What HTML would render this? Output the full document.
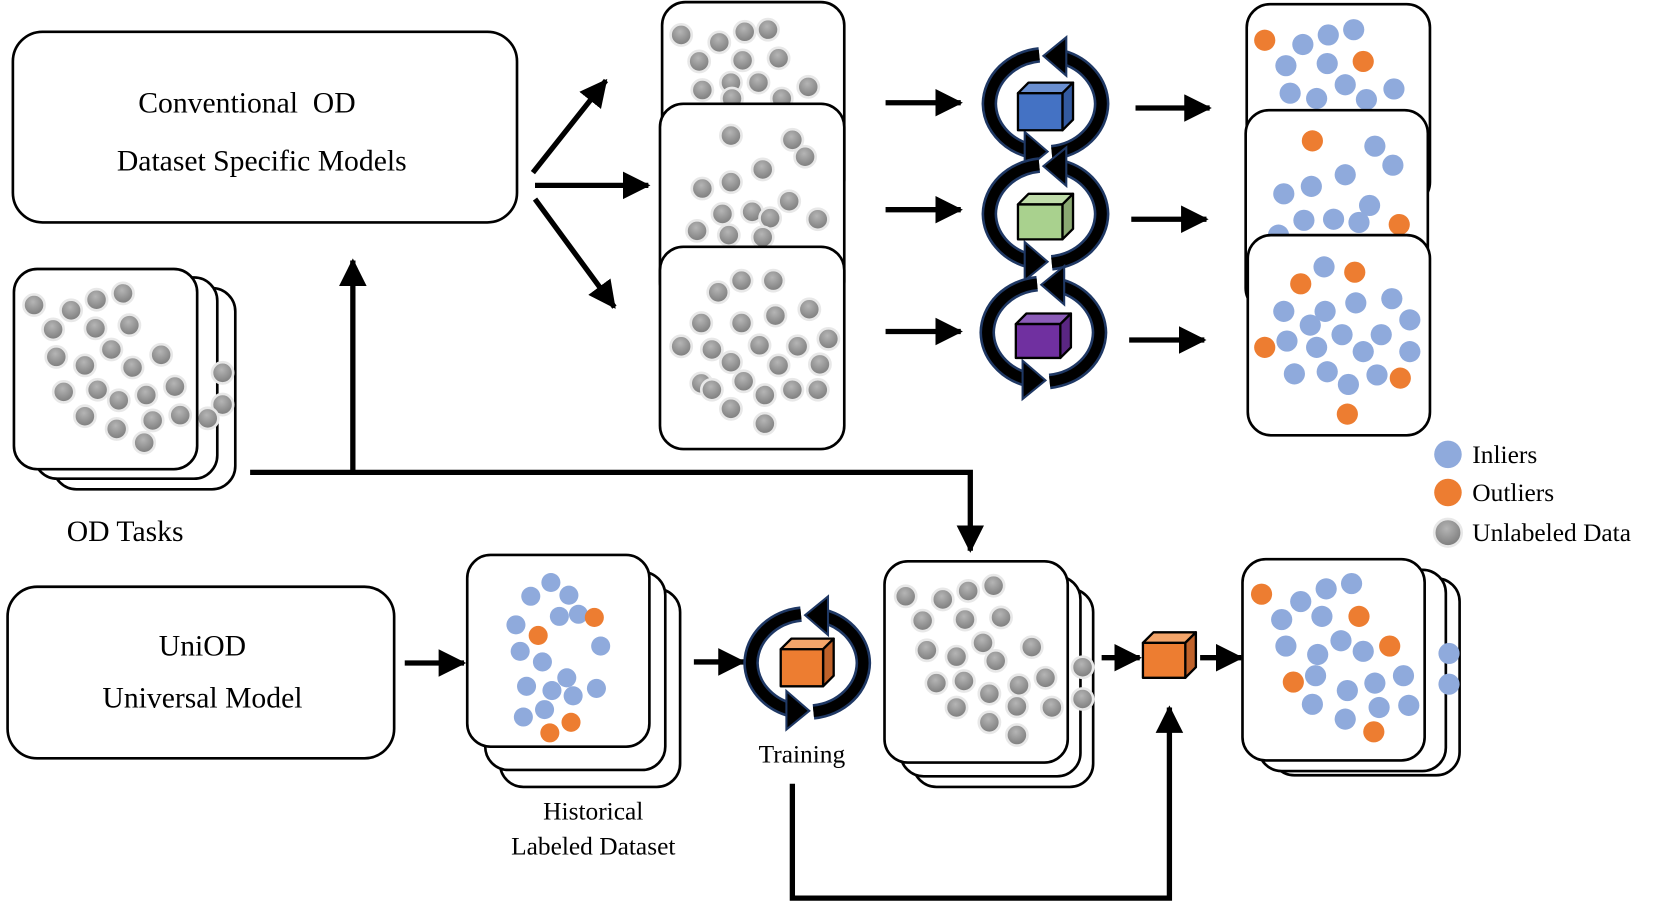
<!DOCTYPE html>
<html><head><meta charset="utf-8"><style>
html,body{margin:0;padding:0;background:#fff;}
svg{display:block;}
text{font-family:"Liberation Serif",serif;fill:#000;}
.card{fill:#fff;stroke:#000;stroke-width:2.5;}
.g{fill:url(#gg);stroke:#e8e8e8;stroke-width:2.5;}
.b{fill:#8faadc;}
.o{fill:#ed7d31;}
.ln{stroke:#000;stroke-width:5;fill:none;}
</style></head><body>
<svg width="1661" height="905" viewBox="0 0 1568 854.5" xmlns="http://www.w3.org/2000/svg">
<defs>
<radialGradient id="gg" cx="0.45" cy="0.35" r="0.7"><stop offset="0" stop-color="#b5b5b5"/><stop offset="1" stop-color="#777"/></radialGradient>
<marker id="ah" markerUnits="userSpaceOnUse" markerWidth="28" markerHeight="28" refX="24" refY="13" orient="auto"><path d="M0,0 L26,13 L0,26 z" fill="#000"/></marker>
<symbol id="cyc" viewBox="-60 -55 120 110" overflow="visible">
<g fill="none" stroke-linecap="butt">
<path d="M -6,-47 A 54 48 0 0 0 -54,0 A 54 48 0 0 0 -16,45" stroke="#1f3864" stroke-width="15"/>
<path d="M -6,-47 A 54 48 0 0 0 -54,0 A 54 48 0 0 0 -16,45" stroke="#000" stroke-width="10"/>
<path d="M 6,47 A 54 48 0 0 0 54,0 A 54 48 0 0 0 16,-45" stroke="#1f3864" stroke-width="15"/>
<path d="M 6,47 A 54 48 0 0 0 54,0 A 54 48 0 0 0 16,-45" stroke="#000" stroke-width="10"/>
</g>
<polygon points="-20,27 2,46 -20,64" fill="#000" stroke="#1f3864" stroke-width="2"/>
<polygon points="20,-27 -2,-46 20,-64" fill="#000" stroke="#1f3864" stroke-width="2"/>
</symbol>
</defs>

<rect x="12" y="30" width="476" height="180" rx="28" class="card"/>
<text x="233" y="106" font-size="28" text-anchor="middle" xml:space="preserve">Conventional  OD</text>
<text x="247" y="161" font-size="28" text-anchor="middle">Dataset Specific Models</text>

<rect x="50" y="272" width="172" height="190" rx="22" class="card"/>
<rect x="32" y="262" width="173" height="190" rx="22" class="card"/>
<circle class="g" cx="210" cy="352" r="10"/><circle class="g" cx="210" cy="382" r="10"/>
<circle class="g" cx="196" cy="395" r="10"/>
<rect x="13" y="254" width="173" height="189" rx="22" class="card"/>
<circle class="g" cx="32" cy="288" r="10"/><circle class="g" cx="67" cy="293" r="10"/><circle class="g" cx="91" cy="283" r="10"/><circle class="g" cx="116" cy="277" r="10"/>
<circle class="g" cx="50" cy="311" r="10"/><circle class="g" cx="90" cy="310" r="10"/><circle class="g" cx="122" cy="307" r="10"/>
<circle class="g" cx="53" cy="337" r="10"/><circle class="g" cx="80" cy="345" r="10"/><circle class="g" cx="105" cy="330" r="10"/><circle class="g" cx="125" cy="347" r="10"/><circle class="g" cx="152" cy="335" r="10"/>
<circle class="g" cx="60" cy="370" r="10"/><circle class="g" cx="92" cy="368" r="10"/><circle class="g" cx="112" cy="378" r="10"/><circle class="g" cx="138" cy="373" r="10"/><circle class="g" cx="165" cy="365" r="10"/>
<circle class="g" cx="80" cy="393" r="10"/><circle class="g" cx="110" cy="405" r="10"/><circle class="g" cx="144" cy="397" r="10"/><circle class="g" cx="170" cy="392" r="10"/><circle class="g" cx="136" cy="418" r="10"/>
<text x="118" y="511" font-size="28" text-anchor="middle">OD Tasks</text>

<path class="ln" d="M236,446 H916 V520" marker-end="url(#ah)"/>
<path class="ln" d="M333,446 V246" marker-end="url(#ah)"/>
<path class="ln" d="M503,163 L572,76" marker-end="url(#ah)"/>
<path class="ln" d="M505,175 L612,175" marker-end="url(#ah)"/>
<path class="ln" d="M505,188 L580,290" marker-end="url(#ah)"/>

<rect x="625" y="2" width="172" height="190" rx="22" class="card"/>
<circle class="g" cx="643" cy="33" r="10"/><circle class="g" cx="660" cy="58" r="10"/><circle class="g" cx="679" cy="40" r="10"/><circle class="g" cx="703" cy="30" r="10"/><circle class="g" cx="725" cy="28" r="10"/><circle class="g" cx="701" cy="57" r="10"/><circle class="g" cx="735" cy="55" r="10"/><circle class="g" cx="690" cy="78" r="10"/><circle class="g" cx="716" cy="78" r="10"/><circle class="g" cx="663" cy="85" r="10"/><circle class="g" cx="763" cy="82" r="10"/><circle class="g" cx="738" cy="93" r="10"/><circle class="g" cx="691" cy="93" r="10"/>
<rect x="623" y="98" width="174" height="190" rx="22" class="card"/>
<circle class="g" cx="690" cy="128" r="10"/><circle class="g" cx="748" cy="132" r="10"/><circle class="g" cx="760" cy="148" r="10"/><circle class="g" cx="720" cy="160" r="10"/><circle class="g" cx="663" cy="178" r="10"/><circle class="g" cx="690" cy="172" r="10"/><circle class="g" cx="745" cy="190" r="10"/><circle class="g" cx="682" cy="202" r="10"/><circle class="g" cx="710" cy="200" r="10"/><circle class="g" cx="727" cy="206" r="10"/><circle class="g" cx="772" cy="207" r="10"/><circle class="g" cx="658" cy="218" r="10"/><circle class="g" cx="688" cy="222" r="10"/><circle class="g" cx="720" cy="224" r="10"/>
<rect x="623" y="233" width="174" height="191" rx="22" class="card"/>
<circle class="g" cx="678" cy="276" r="10"/><circle class="g" cx="700" cy="265" r="10"/><circle class="g" cx="730" cy="265" r="10"/><circle class="g" cx="662" cy="305" r="10"/><circle class="g" cx="700" cy="305" r="10"/><circle class="g" cx="732" cy="298" r="10"/><circle class="g" cx="764" cy="292" r="10"/><circle class="g" cx="643" cy="327" r="10"/><circle class="g" cx="672" cy="330" r="10"/><circle class="g" cx="717" cy="326" r="10"/><circle class="g" cx="753" cy="327" r="10"/><circle class="g" cx="782" cy="320" r="10"/><circle class="g" cx="690" cy="342" r="10"/><circle class="g" cx="735" cy="345" r="10"/><circle class="g" cx="662" cy="362" r="10"/><circle class="g" cx="702" cy="360" r="10"/><circle class="g" cx="774" cy="344" r="10"/><circle class="g" cx="672" cy="368" r="10"/><circle class="g" cx="722" cy="373" r="10"/><circle class="g" cx="748" cy="368" r="10"/><circle class="g" cx="772" cy="368" r="10"/><circle class="g" cx="690" cy="386" r="10"/><circle class="g" cx="722" cy="400" r="10"/>

<path class="ln" d="M836,97 H907" marker-end="url(#ah)"/>
<path class="ln" d="M836,198 H907" marker-end="url(#ah)"/>
<path class="ln" d="M836,313 H907" marker-end="url(#ah)"/>

<use href="#cyc" x="928" y="44" width="118" height="108"/>
<use href="#cyc" x="928" y="148" width="118" height="108"/>
<use href="#cyc" x="926" y="260" width="118" height="108"/>
<g stroke="#000" stroke-width="2.2" stroke-linejoin="round">
<polygon points="961,88 971,78 1013,78 1003,88" fill="#6a8fd0"/><polygon points="1003,88 1013,78 1013,113 1003,123" fill="#335aa0"/><rect x="961" y="88" width="42" height="35" fill="#4472c4"/>
<polygon points="961,193 971,183 1013,183 1003,193" fill="#c0dcaa"/><polygon points="1003,193 1013,183 1013,216 1003,226" fill="#8aa872"/><rect x="961" y="193" width="42" height="33" fill="#a9d18e"/>
<polygon points="959,306 969,296 1011,296 1001,306" fill="#8c5cb8"/><polygon points="1001,306 1011,296 1011,328 1001,338" fill="#5a2683"/><rect x="959" y="306" width="42" height="32" fill="#7030a0"/>
</g>

<path class="ln" d="M1072,102 H1142" marker-end="url(#ah)"/>
<path class="ln" d="M1068,207 H1139" marker-end="url(#ah)"/>
<path class="ln" d="M1066,321 H1137" marker-end="url(#ah)"/>

<rect x="1177" y="4" width="173" height="190" rx="22" class="card"/>
<g class="b"><circle cx="1230" cy="42" r="10"/><circle cx="1254" cy="33" r="10"/><circle cx="1278" cy="28" r="10"/><circle cx="1214" cy="62" r="10"/><circle cx="1253" cy="60" r="10"/><circle cx="1270" cy="80" r="10"/><circle cx="1243" cy="93" r="10"/><circle cx="1290" cy="94" r="10"/><circle cx="1316" cy="84" r="10"/><circle cx="1218" cy="88" r="10"/></g>
<g class="o"><circle cx="1194" cy="38" r="10"/><circle cx="1287" cy="58" r="10"/></g>
<rect x="1176" y="104" width="172" height="190" rx="22" class="card"/>
<g class="b"><circle cx="1298" cy="138" r="10"/><circle cx="1315" cy="156" r="10"/><circle cx="1238" cy="176" r="10"/><circle cx="1270" cy="165" r="10"/><circle cx="1212" cy="183" r="10"/><circle cx="1293" cy="194" r="10"/><circle cx="1231" cy="208" r="10"/><circle cx="1259" cy="207" r="10"/><circle cx="1283" cy="210" r="10"/><circle cx="1207" cy="222" r="10"/></g>
<g class="o"><circle cx="1239" cy="133" r="10"/><circle cx="1321" cy="212" r="10"/></g>
<rect x="1178" y="222" width="172" height="189" rx="22" class="card"/>
<g class="b"><circle cx="1250" cy="252" r="10"/><circle cx="1212" cy="294" r="10"/><circle cx="1251" cy="294" r="10"/><circle cx="1280" cy="286" r="10"/><circle cx="1314" cy="282" r="10"/><circle cx="1331" cy="302" r="10"/><circle cx="1237" cy="307" r="10"/><circle cx="1267" cy="316" r="10"/><circle cx="1304" cy="316" r="10"/><circle cx="1215" cy="322" r="10"/><circle cx="1243" cy="328" r="10"/><circle cx="1287" cy="332" r="10"/><circle cx="1331" cy="332" r="10"/><circle cx="1222" cy="353" r="10"/><circle cx="1253" cy="351" r="10"/><circle cx="1273" cy="363" r="10"/><circle cx="1300" cy="354" r="10"/></g>
<g class="o"><circle cx="1279" cy="257" r="10"/><circle cx="1228" cy="268" r="10"/><circle cx="1194" cy="328" r="10"/><circle cx="1322" cy="357" r="10"/><circle cx="1272" cy="391" r="10"/></g>

<circle cx="1367" cy="429" r="13" class="b"/><circle cx="1367" cy="465" r="13" class="o"/><circle cx="1367" cy="503" r="13" class="g"/>
<text x="1390" y="437" font-size="24">Inliers</text>
<text x="1390" y="473" font-size="24">Outliers</text>
<text x="1390" y="511" font-size="24">Unlabeled Data</text>

<rect x="7" y="554" width="365" height="162" rx="28" class="card"/>
<text x="191" y="619" font-size="28" text-anchor="middle">UniOD</text>
<text x="191" y="668" font-size="28" text-anchor="middle">Universal Model</text>
<path class="ln" d="M382,626 H438" marker-end="url(#ah)"/>

<rect x="472" y="556" width="170" height="187" rx="22" class="card"/>
<rect x="458" y="540" width="170" height="187" rx="22" class="card"/>
<rect x="441" y="524" width="172" height="181" rx="22" class="card"/>
<g class="b"><circle cx="520" cy="550" r="9"/><circle cx="537" cy="562" r="9"/><circle cx="501" cy="563" r="9"/><circle cx="487" cy="590" r="9"/><circle cx="528" cy="582" r="9"/><circle cx="546" cy="580" r="9"/><circle cx="491" cy="615" r="9"/><circle cx="567" cy="610" r="9"/><circle cx="512" cy="625" r="9"/><circle cx="535" cy="640" r="9"/><circle cx="497" cy="648" r="9"/><circle cx="521" cy="652" r="9"/><circle cx="541" cy="657" r="9"/><circle cx="563" cy="650" r="9"/><circle cx="514" cy="670" r="9"/><circle cx="494" cy="677" r="9"/></g>
<g class="o"><circle cx="561" cy="583" r="9"/><circle cx="508" cy="600" r="9"/><circle cx="519" cy="692" r="9"/><circle cx="539" cy="682" r="9"/></g>
<text x="560" y="774" font-size="24" text-anchor="middle">Historical</text>
<text x="560" y="807" font-size="24" text-anchor="middle">Labeled Dataset</text>

<path class="ln" d="M655,625 H702" marker-end="url(#ah)"/>
<use href="#cyc" x="703" y="572" width="118" height="108"/>
<g stroke="#000" stroke-width="2.2" stroke-linejoin="round">
<polygon points="737,613 747,603 787,603 777,613" fill="#f4a56a"/><polygon points="777,613 787,603 787,638 777,648" fill="#c0622a"/><rect x="737" y="613" width="40" height="35" fill="#ed7d31"/>
<polygon points="1079,607 1089,597 1129,597 1119,607" fill="#f4a56a"/><polygon points="1119,607 1129,597 1129,630 1119,640" fill="#c0622a"/><rect x="1079" y="607" width="40" height="33" fill="#ed7d31"/>
</g>
<text x="757" y="720" font-size="24" text-anchor="middle">Training</text>
<path class="ln" d="M748,740 V848 H1104 V668" marker-end="url(#ah)"/>

<rect x="862" y="556" width="170" height="187" rx="22" class="card"/>
<rect x="850" y="544" width="170" height="189" rx="22" class="card"/>
<circle class="g" cx="1022" cy="630" r="10"/><circle class="g" cx="1022" cy="660" r="10"/>
<rect x="835" y="530" width="173" height="190" rx="22" class="card"/>
<circle class="g" cx="855" cy="563" r="10"/><circle class="g" cx="890" cy="566" r="10"/><circle class="g" cx="914" cy="558" r="10"/><circle class="g" cx="938" cy="553" r="10"/><circle class="g" cx="871" cy="586" r="10"/><circle class="g" cx="911" cy="585" r="10"/><circle class="g" cx="945" cy="583" r="10"/><circle class="g" cx="875" cy="614" r="10"/><circle class="g" cx="903" cy="620" r="10"/><circle class="g" cx="928" cy="607" r="10"/><circle class="g" cx="940" cy="624" r="10"/><circle class="g" cx="974" cy="611" r="10"/><circle class="g" cx="884" cy="645" r="10"/><circle class="g" cx="910" cy="643" r="10"/><circle class="g" cx="934" cy="655" r="10"/><circle class="g" cx="962" cy="647" r="10"/><circle class="g" cx="987" cy="640" r="10"/><circle class="g" cx="903" cy="668" r="10"/><circle class="g" cx="960" cy="667" r="10"/><circle class="g" cx="993" cy="668" r="10"/><circle class="g" cx="934" cy="682" r="10"/><circle class="g" cx="960" cy="694" r="10"/>

<path class="ln" d="M1040,621 H1076" marker-end="url(#ah)"/>
<path class="ln" d="M1133,621 H1172" marker-end="url(#ah)"/>

<rect x="1200" y="546" width="178" height="186" rx="22" class="card"/>
<rect x="1188" y="538" width="177" height="190" rx="22" class="card"/>
<circle class="b" cx="1368" cy="617" r="10"/><circle class="b" cx="1368" cy="646" r="10"/>
<rect x="1173" y="528" width="172" height="190" rx="22" class="card"/>
<g class="b"><circle cx="1228" cy="568" r="10"/><circle cx="1252" cy="556" r="10"/><circle cx="1276" cy="551" r="10"/><circle cx="1210" cy="585" r="10"/><circle cx="1248" cy="582" r="10"/><circle cx="1266" cy="605" r="10"/><circle cx="1214" cy="610" r="10"/><circle cx="1244" cy="618" r="10"/><circle cx="1287" cy="615" r="10"/><circle cx="1325" cy="638" r="10"/><circle cx="1242" cy="638" r="10"/><circle cx="1272" cy="652" r="10"/><circle cx="1298" cy="645" r="10"/><circle cx="1239" cy="665" r="10"/><circle cx="1302" cy="668" r="10"/><circle cx="1330" cy="666" r="10"/><circle cx="1270" cy="679" r="10"/></g>
<g class="o"><circle cx="1191" cy="561" r="10"/><circle cx="1283" cy="582" r="10"/><circle cx="1312" cy="610" r="10"/><circle cx="1221" cy="644" r="10"/><circle cx="1297" cy="691" r="10"/></g>
</svg>
</body></html>
